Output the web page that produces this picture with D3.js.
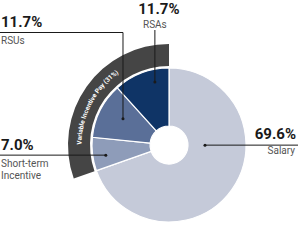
<!DOCTYPE html>
<html lang="en">
<head>
<meta charset="UTF-8">
<title>Pay mix</title>
<style>
  body { margin: 0; background: #fff; }
  svg { display: block; font-family: Roboto, "Noto Sans", sans-serif; }
</style>
<script src="https://cdn.jsdelivr.net/npm/d3@7"></script>
</head>
<body>
<script>
// data
const categories = ["Salary", "Short-term Incentive", "RSUs", "RSAs"];
const values = [69.6, 7.0, 11.7, 11.7];
const sliceColors = ["#c5cad9", "#8e9cb9", "#5a6f98", "#0f3466"];
const groupName = "Variable Incentive Pay (31%)";
const groupMembers = ["Short-term Incentive", "RSUs", "RSAs"];

const width = 298, height = 246;
const cx = 169, cy = 145;
const rIn = 19, rOut = 77;

const svg = d3.select("body").append("svg")
  .attr("width", width)
  .attr("height", height);

const g = svg.append("g").attr("transform", `translate(${cx},${cy})`);

const pie = d3.pie().sort(null).value(d => d.v);
const arcs = pie(categories.map((c, i) => ({ c: c, v: values[i], col: sliceColors[i] })));

const arc = d3.arc().innerRadius(rIn).outerRadius(rOut);

//slices
g.selectAll(".slice")
  .data(arcs)
  .join("path")
  .attr("class", "slice")
  .attr("d", arc)
  .attr("fill", d => d.data.col)
  .attr("stroke", "#fff")
  .attr("stroke-width", 1.2);

//dark band around the variable part
const grp = arcs.filter(d => groupMembers.includes(d.data.c));
const g0 = d3.min(grp, d => d.startAngle), g1 = d3.max(grp, d => d.endAngle);
g.append("path")
  .attr("d", d3.arc().innerRadius(79).outerRadius(101)({ startAngle: g0, endAngle: g1 }))
  .attr("fill", "#454545");

const tp = d3.path();
tp.arc(0, 0, 87.5, g0 - Math.PI / 2, g1 - Math.PI / 2);
g.append("path").attr("id", "bandPath").attr("d", tp.toString()).attr("fill", "none");
g.append("text")
  .attr("fill", "#fff")
  .attr("font-size", 6.5)
  .attr("font-weight", 700)
  .append("textPath")
  .attr("href", "#bandPath")
  .attr("startOffset", "43%")
  .attr("text-anchor", "middle")
  .text(groupName);

// leaders: where in the slice the dot sits (fraction of slice angle, radius)
const polar = (a, r) => [cx + r * Math.sin(a), cy - r * Math.cos(a)];
function dotOf(d, frac, r) {
  return polar(d.startAngle + frac * (d.endAngle - d.startAngle), r);
}

const fmt = v => v.toFixed(1) + "%";
const ink = "#1a1a1a";
const lines = svg.append("g").attr("stroke", ink).attr("stroke-width", 1).attr("fill", "none");
const dots = svg.append("g").attr("fill", ink);
const txt = svg.append("g").attr("fill", ink);

function bigText(x, y, s, anchor) {
  txt.append("text").attr("x", x).attr("y", y).attr("text-anchor", anchor)
    .attr("font-size", 15).attr("font-weight", 700).text(s);
}
function smallText(x, y, s, anchor) {
  txt.append("text").attr("x", x).attr("y", y).attr("text-anchor", anchor)
    .attr("font-size", 10).attr("fill", "#555").text(s);
}

// Salary
let d = arcs[0], p = dotOf(d, 0.36, 36);
lines.append("path").attr("d", `M${p[0]},${p[1]}H${width}`);
dots.append("circle").attr("cx", p[0]).attr("cy", p[1]).attr("r", 1.5);
bigText(296, 139, fmt(d.data.v), "end");
smallText(295, 154, "Salary", "end");

// Short-term Incentive
d = arcs[1]; p = dotOf(d, 0.41, 64);
lines.append("path").attr("d", `M0,${p[1]}H${p[0]}`);
dots.append("circle").attr("cx", p[0]).attr("cy", p[1]).attr("r", 1.5);
bigText(1, p[1] - 5, fmt(d.data.v), "start");
smallText(1, p[1] + 12, "Short-term", "start");
smallText(1, p[1] + 24, "Incentive", "start");

// RSUs
d = arcs[2]; p = dotOf(d, 0.57, 53);
lines.append("path").attr("d", `M0,32.5H${p[0]}V${p[1]}`);
dots.append("circle").attr("cx", p[0]).attr("cy", p[1]).attr("r", 1.5);
bigText(1, 27, fmt(d.data.v), "start");
smallText(1, 44, "RSUs", "start");

// RSAs
d = arcs[3]; p = dotOf(d, 0.70, 64.5);
lines.append("path").attr("d", `M${p[0]},30V${p[1]}`);
dots.append("circle").attr("cx", p[0]).attr("cy", p[1]).attr("r", 1.5);
bigText(p[0] + 4, 13.5, fmt(d.data.v), "middle");
smallText(p[0], 27.5, "RSAs", "middle");
</script>
</body>
</html>
